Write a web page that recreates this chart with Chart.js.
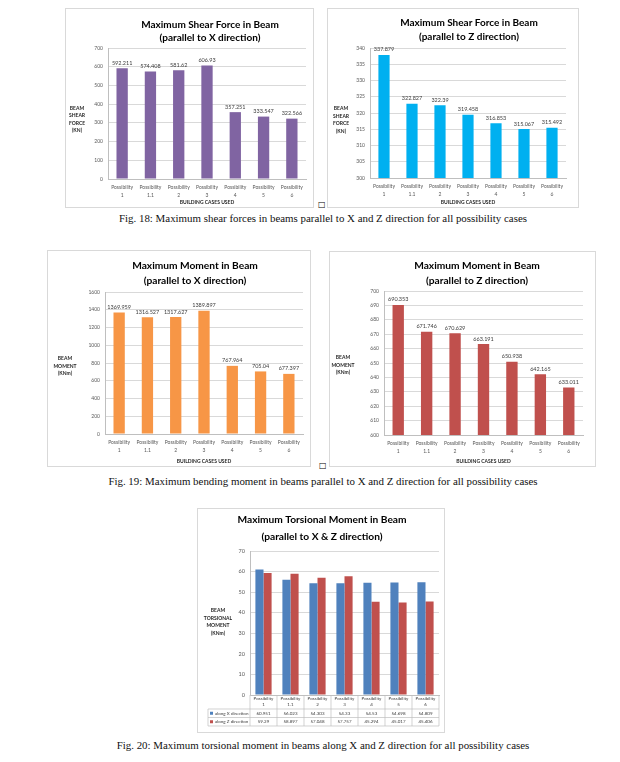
<!DOCTYPE html>
<html lang="en">
<head>
<meta charset="UTF-8">
<title>Beam results</title>
<script src="https://cdn.jsdelivr.net/npm/chart.js"></script>
<style>
    body {
        margin: 0;
        width: 620px;
        height: 762px;
        background: #fff;
        position: relative;
        overflow: hidden;
    }

    .frame {
        position: absolute;
        border: 1px solid #d9d9d9;
        box-sizing: border-box;
        background: #fff;
    }

    .frame canvas {
        position: absolute;
        left: 0;
        top: 0;
    }

    .caption {
        position: absolute;
        left: 0;
        width: 646px;
        text-align: center;
        font-family: "Liberation Serif", "DejaVu Serif", serif;
        font-weight: normal;
        font-size: 10.9px;
        line-height: 12px;
        color: #111;
        white-space: nowrap;
    }

    .box {
        position: absolute;
        font-family: "DejaVu Sans", sans-serif;
        font-size: 8px;
        line-height: 8px;
        color: #000;
    }
</style>
</head>
<body>
    <div class="frame" id="shearXBox"></div>
    <div class="frame" id="shearZBox"></div>
    <span class="box" style="left:318px; top:201px;">□</span>
    <div class="caption" style="top:212px;">Fig. 18: Maximum shear forces in beams parallel to X and Z direction for all possibility cases</div>

    <div class="frame" id="momentXBox"></div>
    <div class="frame" id="momentZBox"></div>
    <span class="box" style="left:319px; top:462px;">□</span>
    <div class="caption" style="top:475px;">Fig. 19: Maximum bending moment in beams parallel to X and Z direction for all possibility cases</div>

    <div class="frame" id="torsionBox"></div>
    <div class="caption" style="top:739px;">Fig. 20: Maximum torsional moment in beams along X and Z direction for all possibility cases</div>

<script>
    // categories (two line labels)
    const cases = [
        ["Possibility", "1"], ["Possibility", "1.1"], ["Possibility", "2"], ["Possibility", "3"],
        ["Possibility", "4"], ["Possibility", "5"], ["Possibility", "6"]
    ];

    // values
    const shearX = [592.211, 574.408, 581.62, 606.93, 357.251, 333.547, 322.566];
    const shearZ = [337.879, 322.827, 322.39, 319.458, 316.853, 315.067, 315.492];
    const momentX = [1369.959, 1316.527, 1317.627, 1389.897, 767.964, 705.04, 677.397];
    const momentZ = [690.353, 671.746, 670.629, 663.191, 650.938, 642.165, 633.011];
    const torsionX = [60.951, 56.023, 54.303, 54.33, 54.53, 54.698, 54.809];
    const torsionZ = [59.29, 58.897, 57.048, 57.757, 45.294, 45.017, 45.406];

    // y axes: min, max, step
    const shearXAxis = [0, 700, 100];
    const shearZAxis = [300, 340, 5];
    const momentXAxis = [0, 1600, 200];
    const momentZAxis = [600, 700, 10];
    const torsionAxis = [0, 70, 10];

    const seriesNames = ["along X direction", "along Z direction"];
    const xAxisTitle = "BUILDING CASES USED";

    const FONT = "Lato";

    // two line chart heading
    const headTitle = {
        id: "headTitle",
        afterDraw(chart, args, o) {
            if (!o.lines) return;
            const ctx = chart.ctx;
            ctx.save();
            ctx.font = `bold ${o.size}px ${FONT}`;
            ctx.fillStyle = "#000";
            ctx.textAlign = "center";
            ctx.textBaseline = "middle";
            o.lines.forEach((t, i) => ctx.fillText(t, o.x, o.y + i * o.gap));
            ctx.restore();
        }
    };

    // horizontal y axis title at the left
    const sideTitle = {
        id: "sideTitle",
        afterDraw(chart, args, o) {
            if (!o.lines) return;
            const ctx = chart.ctx;
            ctx.save();
            ctx.font = `bold 5px ${FONT}`;
            ctx.fillStyle = "#262626";
            ctx.textAlign = "center";
            ctx.textBaseline = "middle";
            const h = 7.5;
            const y0 = o.y - (o.lines.length - 1) * h / 2;
            o.lines.forEach((t, i) => ctx.fillText(t, o.x, y0 + i * h));
            ctx.restore();
        }
    };

    // numbers on top of the bars
    const valueLabels = {
        id: "valueLabels",
        afterDatasetsDraw(chart, args, o) {
            if (!o.show) return;
            const ctx = chart.ctx;
            ctx.save();
            ctx.font = `5.5px ${FONT}`;
            ctx.fillStyle = "#404040";
            ctx.textAlign = "center";
            ctx.textBaseline = "bottom";
            chart.data.datasets.forEach((ds, i) => {
                chart.getDatasetMeta(i).data.forEach((bar, j) => {
                    ctx.fillText(String(ds.data[j]), bar.x, bar.y - 2.5);
                });
            });
            ctx.restore();
        }
    };

    // data table under the torsion chart
    const dataTable = {
        id: "dataTable",
        afterDraw(chart, args, o) {
            if (!o.head) return;
            const ctx = chart.ctx, a = chart.chartArea, xs = chart.scales.x;
            const n = chart.data.labels.length, w = (a.right - a.left) / n;
            const rows = chart.data.datasets;
            const y0 = a.bottom, y1 = y0 + o.head;
            const yEnd = y1 + rows.length * o.row;
            ctx.save();
            ctx.strokeStyle = "#bfbfbf";
            ctx.lineWidth = 0.7;
            ctx.beginPath();
            for (let i = 0; i <= n; i++) {
                const x = a.left + i * w;
                ctx.moveTo(x, y0);
                ctx.lineTo(x, yEnd);
            }
            for (let r = 0; r <= rows.length; r++) {
                const y = y1 + r * o.row;
                ctx.moveTo(o.left, y);
                ctx.lineTo(a.right, y);
            }
            ctx.moveTo(o.left, y1);
            ctx.lineTo(o.left, yEnd);
            ctx.stroke();

            ctx.font = `4.5px ${FONT}`;
            ctx.fillStyle = "#404040";
            ctx.textBaseline = "middle";
            ctx.textAlign = "center";
            chart.data.labels.forEach((lab, i) => {
                const cx = xs.getPixelForTick(i);
                lab.forEach((t, k) => ctx.fillText(t, cx, y0 + o.head / 2 + (k - 0.5) * 6));
            });
            rows.forEach((ds, r) => {
                const cy = y1 + (r + 0.5) * o.row;
                ctx.fillStyle = ds.backgroundColor;
                ctx.fillRect(o.left + 2, cy - 1.5, 3, 3);
                ctx.fillStyle = "#404040";
                ctx.textAlign = "left";
                ctx.fillText(ds.label, o.left + 7, cy);
                ctx.textAlign = "center";
                ds.data.forEach((v, j) => ctx.fillText(String(v), xs.getPixelForTick(j), cy));
            });
            ctx.restore();
        }
    };

    function build(id, frame, plot, datasets, axis, text, table) {
        const [fx, fy, fw, fh] = frame;
        const box = document.getElementById(id);
        box.style.left = fx + "px";
        box.style.top = fy + "px";
        box.style.width = fw + "px";
        box.style.height = fh + "px";

        const cw = fw - 2, ch = fh - 2, ox = fx + 1, oy = fy + 1;
        const canvas = document.createElement("canvas");
        canvas.width = cw;
        canvas.height = ch;
        box.appendChild(canvas);

        const [pl, pt, pr, pb] = plot;
        const padLeft = pl - ox, padTop = pt - oy;
        const padRight = cw - (pr - ox), padBottom = ch - (pb - oy);
        const tableOpts = table ? { left: table.left - ox, head: table.head, row: table.row } : {};

        new Chart(canvas, {
            type: "bar",
            data: { labels: cases, datasets: datasets },
            options: {
                responsive: false,
                animation: false,
                layout: { padding: { left: 0, top: padTop, right: padRight, bottom: 0 } },
                plugins: {
                    legend: { display: false },
                    tooltip: { enabled: false },
                    title: { display: false },
                    headTitle: { lines: text.title, x: text.tx - ox, y: text.ty - oy, gap: text.gap, size: text.size },
                    sideTitle: { lines: text.yTitle, x: text.yx - ox, y: text.yy - oy },
                    valueLabels: { show: !table },
                    dataTable: tableOpts
                },
                scales: {
                    x: {
                        grid: { display: false, drawTicks: false },
                        border: { color: "#bfbfbf" },
                        ticks: {
                            display: !table,
                            color: "#595959",
                            font: { family: FONT, size: 5, lineHeight: 1.6 },
                            padding: 4,
                            maxRotation: 0,
                            autoSkip: false
                        },
                        title: {
                            display: !table,
                            text: xAxisTitle,
                            color: "#262626",
                            font: { family: FONT, size: 5, weight: "bold" },
                            padding: { top: 0, bottom: 2 }
                        },
                        afterFit: s => { s.height = padBottom; }
                    },
                    y: {
                        min: axis[0],
                        max: axis[1],
                        ticks: {
                            stepSize: axis[2],
                            color: "#595959",
                            font: { family: FONT, size: text.tick },
                            padding: 5,
                            callback: v => String(v)
                        },
                        grid: { color: "#d9d9d9", drawTicks: false },
                        border: { color: "#bfbfbf" },
                        afterFit: s => { s.width = padLeft; }
                    }
                }
            },
            plugins: [headTitle, sideTitle, valueLabels, dataTable]
        });
    }

    const single = (values, color) => [{
        data: values,
        backgroundColor: color,
        borderWidth: 0,
        barPercentage: 0.4,
        categoryPercentage: 1
    }];

    build("shearXBox", [65, 8, 249, 200], [108, 48, 306, 179],
        single(shearX, "#8064A2"), shearXAxis,
        { title: ["Maximum Shear Force in Beam", "(parallel to X direction)"], tx: 210, ty: 25, gap: 13, size: 10, tick: 5,
          yTitle: ["BEAM", "SHEAR", "FORCE", "(KN)"], yx: 77, yy: 119.5 });

    build("shearZBox", [327, 8, 252, 200], [370, 48, 566, 178],
        single(shearZ, "#00B0F0"), shearZAxis,
        { title: ["Maximum Shear Force in Beam", "(parallel to Z direction)"], tx: 469, ty: 23, gap: 14, size: 10, tick: 5,
          yTitle: ["BEAM", "SHEAR", "FORCE", "(KN)"], yx: 341, yy: 120 });

    build("momentXBox", [47, 250, 264, 217], [105, 292, 303, 434],
        single(momentX, "#F79646"), momentXAxis,
        { title: ["Maximum Moment in Beam", "(parallel to X direction)"], tx: 195, ty: 266, gap: 15, size: 10.2, tick: 5,
          yTitle: ["BEAM", "MOMENT", "(KNm)"], yx: 65, yy: 366 });

    build("momentZBox", [329, 251, 267, 216], [384, 291, 583, 435],
        single(momentZ, "#C0504D"), momentZAxis,
        { title: ["Maximum Moment in Beam", "(parallel to Z direction)"], tx: 477, ty: 266, gap: 15, size: 10.2, tick: 5,
          yTitle: ["BEAM", "MOMENT", "(KNm)"], yx: 343, yy: 365 });

    build("torsionBox", [197, 508, 248, 225], [250, 551, 439, 695],
        [
            { label: seriesNames[0], data: torsionX, backgroundColor: "#4F81BD", borderWidth: 0, barPercentage: 1, categoryPercentage: 0.6 },
            { label: seriesNames[1], data: torsionZ, backgroundColor: "#C0504D", borderWidth: 0, barPercentage: 1, categoryPercentage: 0.6 }
        ],
        torsionAxis,
        { title: ["Maximum Torsional Moment in Beam", "(parallel to X & Z direction)"], tx: 322, ty: 520, gap: 17, size: 10.2, tick: 5.5,
          yTitle: ["BEAM", "TORSIONAL", "MOMENT", "(KNm)"], yx: 218, yy: 622 },
        { left: 208, head: 14, row: 8.5 });
</script>
</body>
</html>
